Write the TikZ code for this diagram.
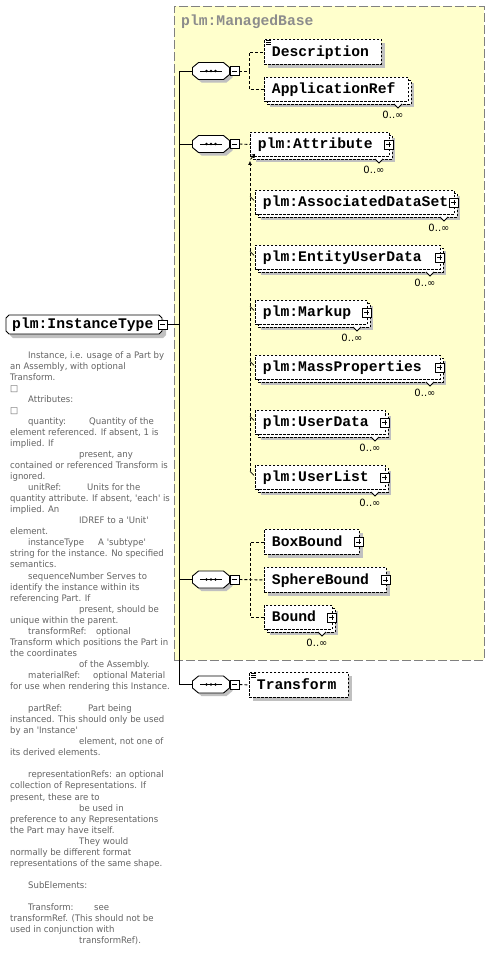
\documentclass[tikz,border=0pt]{standalone}
\usepackage{fontspec}
\usetikzlibrary{calc,arrows.meta}
\newfontfamily\descfont[FakeStretch=0.95,Ligatures=TeXOff]{DejaVu Sans}
\newfontfamily\occfont{DejaVu Sans}
\newfontfamily\lblfont{Liberation Mono}
\definecolor{ybg}{HTML}{FFFFCC}
\definecolor{shd}{HTML}{C0C0C0}
\definecolor{dtxt}{HTML}{646464}
\definecolor{mbtxt}{HTML}{8C8C8C}
\definecolor{ybord}{HTML}{808080}
\tikzset{
  lbl/.style={font=\lblfont\bfseries\fontsize{14.7}{16}\selectfont},
  elem/.style={lbl, draw=black, fill=white, line width=0.9pt, dash pattern=on 2.5pt off 1.5pt,
    inner xsep=7.5pt, inner ysep=0pt, text height=8.4pt, text depth=0pt, align=left, anchor=north west},
  ebox/.style={draw=black, fill=white, line width=0.9pt, dash pattern=on 2.5pt off 1.5pt},
  dconn/.style={line width=0.9pt, dash pattern=on 3pt off 2pt},
  sconn/.style={line width=0.9pt},
  occ/.style={font=\occfont\fontsize{10}{11}\selectfont, inner sep=0pt, text=black},
  dline/.style={anchor=base west, inner sep=0pt, font=\descfont\fontsize{9}{11}\selectfont, text=dtxt},
  plusb/.style={draw, solid, fill=white, line width=0.8pt, minimum size=9pt, inner sep=0pt,
    path picture={\draw[line width=0.8pt] ([xshift=2pt]path picture bounding box.west) -- ([xshift=-2pt]path picture bounding box.east)
      ([yshift=-2pt]path picture bounding box.north) -- ([yshift=2pt]path picture bounding box.south);}},
  minusb/.style={draw, solid, fill=white, line width=0.8pt, minimum size=9pt, inner sep=0pt,
    path picture={\draw[line width=0.8pt] ([xshift=2pt]path picture bounding box.west) -- ([xshift=-2pt]path picture bounding box.east);}},
}
\newcommand\mksingle[5]{%
  \pgfmathsetmacro\tw{#4-#2-15}%
  \fill[shd] (#2+4,#3+4) rectangle (#4+4,#3+29);
  \node[elem, minimum height=25pt, text width=\tw pt] (#1) at (#2,#3) {#5};
}
\newcommand\mkstack[5]{%
  \pgfmathsetmacro\tw{#4-#2-15}%
  \fill[shd] (#2+6,#3+6) rectangle (#4+6,#3+30);
  \draw[ebox] (#2+3,#3+3) rectangle (#4+3,#3+27);
  \node[elem, minimum height=24pt, text width=\tw pt] (#1) at (#2,#3) {#5};
  \filldraw[fill=white, line width=0.8pt] (#4-14,#3+27) -- (#4-10,#3+31) -- (#4-6,#3+27);
  \node[occ] (#1o) at (#4-15,#3+38) {0..∞};
}
\newcommand\addplus[1]{\node[plusb] (#1p) at ($(#1.east)+(-1,0)$) {};}
\newcommand\addnote[1]{\draw[line width=0.6pt] ($(#1.north west)+(2,1.6)$) -- ++(5,0) ($(#1.north west)+(2,3.3)$) -- ++(5,0) ($(#1.north west)+(2,5)$) -- ++(5,0);}
\newcommand\seqcomp[3]{%
  \begin{scope}[shift={(#2,#3)}]
    \fill[shd] (-15.5,-0.5) -- (-9.5,-5.5) -- (15.5,-5.5) -- (21.5,-0.5) -- (21.5,6.5) -- (15.5,11.5) -- (-9.5,11.5) -- (-15.5,6.5) -- cycle;
    \draw[fill=white, line width=0.9pt] (-18.5,-3.5) -- (-12.5,-8.5) -- (12.5,-8.5) -- (18.5,-3.5) -- (18.5,3.5) -- (12.5,8.5) -- (-12.5,8.5) -- (-18.5,3.5) -- cycle;
    \node[minimum width=37pt, minimum height=17pt, inner sep=0pt] (#1) at (0,0) {};
    \draw[line width=0.9pt] (-11,0) -- (11,0);
    \fill (-4.5,0) circle (1.3pt) (0,0) circle (1.3pt) (4.5,0) circle (1.3pt);
    \node[minusb] (#1m) at (23.5,0) {};
  \end{scope}
}
\newcommand\dl[4]{\node[dline] (#1) at (#3,{358+11.05*(#2-1)}) {#4};}
\newcommand\tabx[2]{\setbox0\hbox{#2}\ifdim\wd0>\dimexpr#1pt-3pt\relax\box0\hspace{3pt}\else\makebox[#1pt][l]{\box0}\fi}
\begin{document}
\begin{tikzpicture}[x=1pt,y=-1pt]
\useasboundingbox (0,0) rectangle (489,961);
\fill[white] (0,0) rectangle (489,961);
% managed base container
\node[draw=ybord, fill=ybg, line width=1pt, dash pattern=on 9pt off 3pt, minimum width=310pt, minimum height=654pt, anchor=north west, inner sep=0pt] (mbase) at (173.5,5.5) {};
\node[lbl, text=mbtxt, anchor=base west, inner sep=0pt] (mbt) at (181,25) {plm:ManagedBase};
% InstanceType
\fill[shd] (10,322) -- (13,319) -- (163,319) -- (166,322) -- (166,335) -- (163,338) -- (13,338) -- (10,335) -- cycle;
\draw[fill=white, line width=0.9pt] (6,318) -- (9,315) -- (159,315) -- (162,318) -- (162,331) -- (159,334) -- (9,334) -- (6,331) -- cycle;
\node[lbl, anchor=north west, inner xsep=6pt, inner ysep=0pt, text height=8.4pt, text depth=0pt, minimum height=19pt, text width=144pt, align=left] (inst) at (6,315) {plm:InstanceType};
\node[minusb] (instm) at (162.5,324.5) {};
% compositors
\seqcomp{seqa}{211}{71}
\seqcomp{seqb}{211}{144}
\seqcomp{seqc}{211}{579.5}
\seqcomp{seqd}{211}{684.5}
% trunk
\coordinate (trunk) at (179,0);
\draw[sconn] (instm.east) -- (instm.east -| trunk);
\draw[sconn] (seqa.west) -- (seqa.west -| trunk) -- (seqd.west -| trunk) -- (seqd.west);
\draw[sconn] (seqb.west) -- (seqb.west -| trunk);
\draw[sconn] (seqc.west) -- (seqc.west -| trunk);
% group 1
\mksingle{desc}{264}{39}{381}{Description}
\addnote{desc}
\mkstack{appr}{264}{77}{408}{ApplicationRef}
\coordinate (ba) at (249,0);
\draw[dconn] (seqam.east) -- (seqam.east -| ba) |- (desc.west);
\draw[dconn] (seqam.east -| ba) |- (appr.west);
% group 2
\mkstack{attr}{250}{132}{389}{plm:Attribute}
\addplus{attr}
\mkstack{assoc}{255}{190}{454}{plm:AssociatedDataSet}
\addplus{assoc}
\mkstack{euser}{255}{245}{440}{plm:EntityUserData}
\addplus{euser}
\mkstack{markup}{255}{300}{367}{plm:Markup}
\addplus{markup}
\mkstack{mass}{255}{355}{440}{plm:MassProperties}
\addplus{mass}
\mkstack{udata}{255}{410}{385}{plm:UserData}
\addplus{udata}
\mkstack{ulist}{255}{465}{385}{plm:UserList}
\addplus{ulist}
\draw[dconn] (seqbm.east) -- (attr.west);
\coordinate (sx) at (250,0);
\draw[dconn, -{Latex[length=4pt,width=4pt]}] ($(ulist.west -| sx)+(0,-6)$) -- ($(attr.south west -| sx)+(0,4)$);
\draw[line width=0.8pt, -{Straight Barb[length=2.5pt,width=4pt]}] ($(attr.south west)+(0.5,2.5)$) -- ($(attr.south west)+(5,-3)$);
\foreach \m in {assoc,euser,markup,mass,udata,ulist}
  \draw[line width=0.7pt] ($(\m.west -| sx)+(0,-6)$) -- ($(\m.west)+(-1,-2)$);
% group 3
\mksingle{bbox}{264}{529}{359}{BoxBound}
\addplus{bbox}
\mksingle{sbound}{264}{567}{386}{SphereBound}
\addplus{sbound}
\mkstack{bound}{264}{605}{332}{Bound}
\addplus{bound}
\coordinate (bc) at (250,0);
\draw[dconn] (seqcm.east) -- (sbound.west);
\draw[dconn] (bbox.west) -- (bbox.west -| bc) -- (bound.west -| bc) -- (bound.west);
% group 4
\mksingle{trans}{249}{672}{348}{Transform}
\addnote{trans}
\draw[dconn] (seqdm.east) -- (trans.west);
% description
\dl{d1}{1}{28}{Instance, i.e. usage of a Part by}
\dl{d2}{2}{10}{an Assembly, with optional}
\dl{d3}{3}{10}{Transform.}
\dl{d4}{4}{10}{□}
\dl{d5}{5}{28}{Attributes:}
\dl{d6}{6}{10}{□}
\dl{d7}{7}{28}{\tabx{61}{quantity:}Quantity of the}
\dl{d8}{8}{10}{element referenced. If absent, 1 is}
\dl{d9}{9}{10}{implied. If}
\dl{d10}{10}{79}{present, any}
\dl{d11}{11}{10}{contained or referenced Transform is}
\dl{d12}{12}{10}{ignored.}
\dl{d13}{13}{28}{\tabx{59}{unitRef:}Units for the}
\dl{d14}{14}{10}{quantity attribute. If absent, 'each' is}
\dl{d15}{15}{10}{implied. An}
\dl{d16}{16}{79}{IDREF to a 'Unit'}
\dl{d17}{17}{10}{element.}
\dl{d18}{18}{28}{\tabx{70}{instanceType}A 'subtype'}
\dl{d19}{19}{10}{string for the instance. No specified}
\dl{d20}{20}{10}{semantics.}
\dl{d21}{21}{28}{\tabx{74}{sequenceNumber}Serves to}
\dl{d22}{22}{10}{identify the instance within its}
\dl{d23}{23}{10}{referencing Part. If}
\dl{d24}{24}{79}{present, should be}
\dl{d25}{25}{10}{unique within the parent.}
\dl{d26}{26}{28}{\tabx{68}{transformRef:}optional}
\dl{d27}{27}{10}{Transform which positions the Part in}
\dl{d28}{28}{10}{the coordinates}
\dl{d29}{29}{79}{of the Assembly.}
\dl{d30}{30}{28}{\tabx{65}{materialRef:}optional Material}
\dl{d31}{31}{10}{for use when rendering this Instance.}
\dl{d33}{33}{28}{\tabx{60}{partRef:}Part being}
\dl{d34}{34}{10}{instanced. This should only be used}
\dl{d35}{35}{10}{by an 'Instance'}
\dl{d36}{36}{79}{element, not one of}
\dl{d37}{37}{10}{its derived elements.}
\dl{d39}{39}{28}{representationRefs: an optional}
\dl{d40}{40}{10}{collection of Representations. If}
\dl{d41}{41}{10}{present, these are to}
\dl{d42}{42}{79}{be used in}
\dl{d43}{43}{10}{preference to any Representations}
\dl{d44}{44}{10}{the Part may have itself.}
\dl{d45}{45}{79}{They would}
\dl{d46}{46}{10}{normally be different format}
\dl{d47}{47}{10}{representations of the same shape.}
\dl{d49}{49}{28}{SubElements:}
\dl{d51}{51}{28}{\tabx{66}{Transform:}see}
\dl{d52}{52}{10}{transformRef. (This should not be}
\dl{d53}{53}{10}{used in conjunction with}
\dl{d54}{54}{79}{transformRef).}
\end{tikzpicture}
\end{document}
